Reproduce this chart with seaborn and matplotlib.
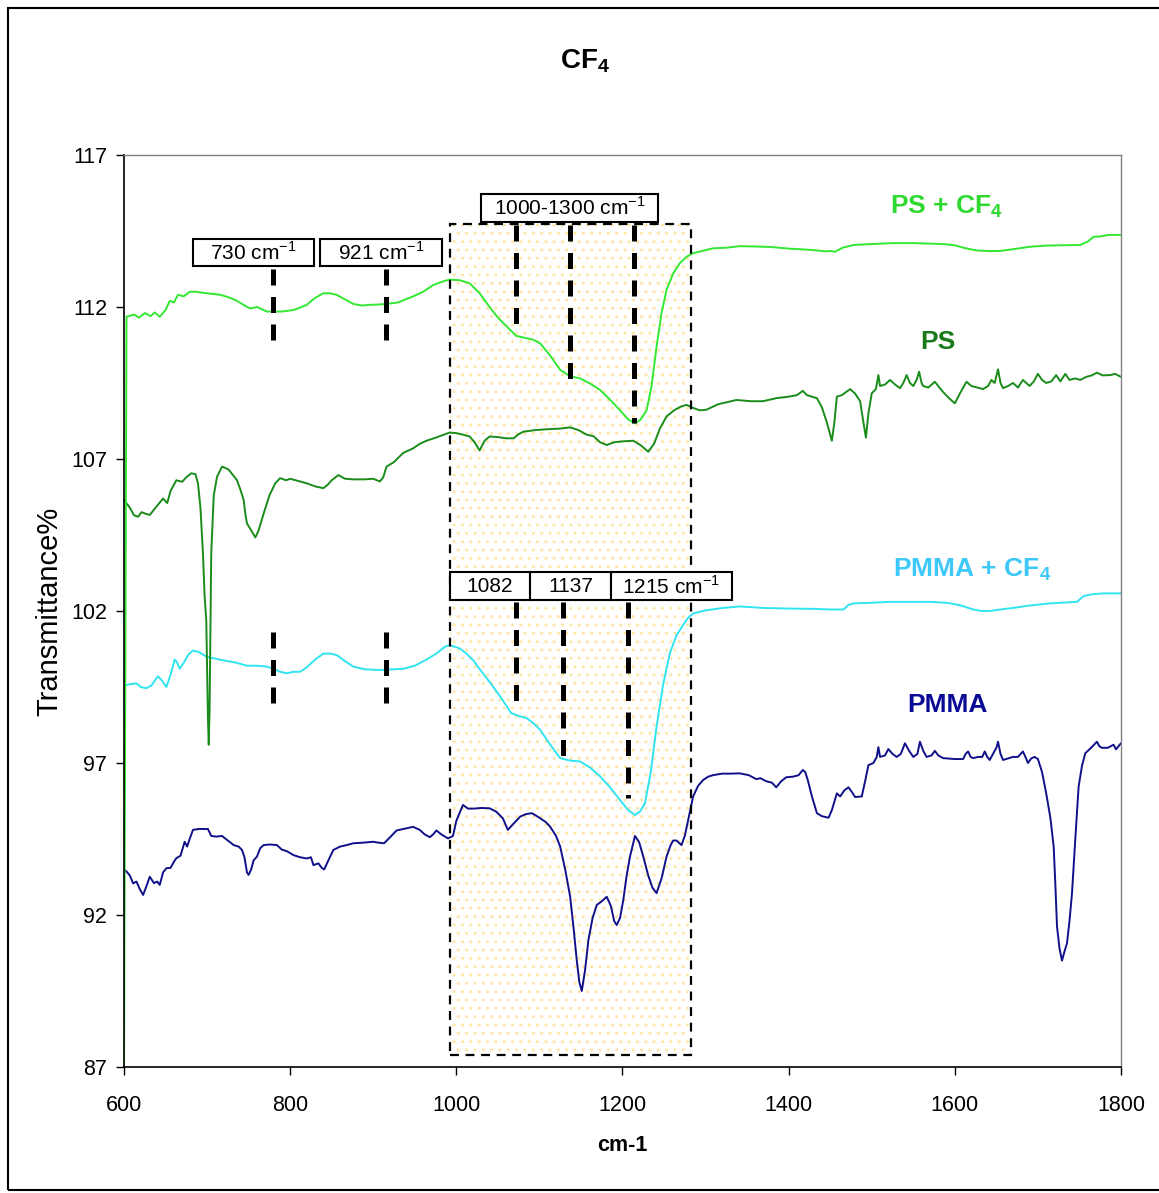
import numpy as np
import pandas as pd
import matplotlib
matplotlib.use("Agg")
import matplotlib.pyplot as plt
from matplotlib.patches import Rectangle
import seaborn as sns

# ── spectra (wavenumber cm-1, transmittance %) ───────────────────────────────
ps_cf4_x = [600, 603, 612, 618, 625, 632, 637, 643, 650, 655, 660, 665, 672, 679, 687, 700, 716,
            728, 736, 745, 752, 760, 772, 790, 804, 812, 820, 830, 840, 848, 856, 866, 876, 886,
            896, 906, 916, 930, 948, 960, 972, 985, 992, 1004, 1016, 1028, 1040, 1050, 1061, 1072,
            1085, 1093, 1101, 1113, 1125, 1137, 1149, 1161, 1173, 1185, 1197, 1207, 1215, 1222,
            1229, 1235, 1241, 1247, 1253, 1261, 1269, 1277, 1285, 1297, 1309, 1325, 1341, 1360,
            1380, 1400, 1414, 1430, 1444, 1450, 1456, 1465, 1478, 1500, 1525, 1550, 1575, 1590,
            1600, 1610, 1626, 1640, 1654, 1670, 1690, 1710, 1730, 1751, 1760, 1767, 1775, 1785, 1800]
ps_cf4_y = [87.0, 111.68, 111.75, 111.65, 111.8, 111.7, 111.82, 111.68, 111.9, 112.2, 112.15, 112.4,
            112.35, 112.5, 112.5, 112.45, 112.4, 112.3, 112.2, 112.05, 111.95, 112.0, 111.85, 111.85,
            111.9, 111.98, 112.07, 112.3, 112.45, 112.45, 112.4, 112.25, 112.1, 112.05, 112.07,
            112.08, 112.1, 112.15, 112.35, 112.5, 112.72, 112.85, 112.9, 112.88, 112.78, 112.45,
            112.0, 111.65, 111.35, 111.05, 110.97, 110.92, 110.8, 110.4, 109.93, 109.72, 109.65,
            109.48, 109.27, 108.95, 108.6, 108.3, 108.17, 108.3, 108.6, 109.4, 110.7, 111.8, 112.56,
            113.1, 113.44, 113.65, 113.77, 113.85, 113.93, 113.95, 114.0, 113.99, 113.97, 113.92,
            113.9, 113.87, 113.83, 113.84, 113.82, 113.95, 114.04, 114.07, 114.1, 114.1, 114.08,
            114.06, 114.03, 113.95, 113.86, 113.84, 113.84, 113.9, 113.98, 114.02, 114.03, 114.04,
            114.15, 114.31, 114.32, 114.37, 114.37]

ps_x = [600, 607, 612, 617, 621, 626, 631, 638, 647, 652, 656, 663, 670, 675, 681, 686, 689, 692,
        695, 697, 699, 700, 701, 702, 703, 704, 705, 708, 712, 718, 726, 736, 740, 744, 746, 748,
        752, 758, 762, 768, 775, 782, 788, 795, 800, 812, 820, 830, 840, 845, 850, 858, 866, 876,
        890, 900, 908, 912, 916, 925, 936, 948, 956, 964, 975, 985, 992, 1000, 1008, 1016, 1022,
        1028, 1034, 1040, 1050, 1060, 1069, 1075, 1081, 1095, 1110, 1125, 1137, 1147, 1157, 1165,
        1173, 1181, 1190, 1200, 1213, 1222, 1231, 1238, 1245, 1253, 1262, 1270, 1277, 1285, 1293,
        1301, 1315, 1337, 1355, 1369, 1385, 1400, 1410, 1417, 1422, 1434, 1440, 1446, 1452, 1455,
        1458, 1464, 1474, 1480, 1486, 1490, 1493, 1496, 1500, 1505, 1508, 1510, 1516, 1522, 1528,
        1534, 1538, 1542, 1546, 1550, 1554, 1557, 1560, 1562, 1568, 1576, 1580, 1586, 1593, 1600,
        1607, 1614, 1620, 1627, 1634, 1640, 1644, 1648, 1652, 1655, 1658, 1664, 1670, 1676, 1682,
        1686, 1690, 1695, 1700, 1705, 1710, 1716, 1722, 1727, 1733, 1738, 1745, 1751, 1758, 1765,
        1771, 1778, 1787, 1793, 1800]
ps_y = [105.65, 105.4, 105.15, 105.1, 105.25, 105.2, 105.16, 105.4, 105.7, 105.55, 105.95, 106.3,
        106.25, 106.4, 106.53, 106.5, 106.2, 105.4, 103.9, 102.5, 101.7, 100.0, 98.5, 97.6, 98.8,
        101.5, 103.9, 105.8, 106.42, 106.75, 106.65, 106.3, 106.0, 105.65, 105.2, 104.88, 104.7,
        104.42, 104.65, 105.2, 105.8, 106.2, 106.37, 106.3, 106.35, 106.26, 106.2, 106.1, 106.04,
        106.15, 106.3, 106.47, 106.35, 106.33, 106.33, 106.35, 106.26, 106.4, 106.75, 106.9, 107.2,
        107.35, 107.5, 107.6, 107.7, 107.8, 107.87, 107.85, 107.8, 107.74, 107.55, 107.28, 107.6,
        107.74, 107.72, 107.68, 107.68, 107.82, 107.9, 107.95, 107.98, 108.0, 108.04, 107.95,
        107.8, 107.75, 107.55, 107.46, 107.55, 107.58, 107.6, 107.45, 107.24, 107.5, 108.0, 108.4,
        108.6, 108.72, 108.78, 108.68, 108.6, 108.62, 108.8, 108.94, 108.9, 108.9, 109.0, 109.05,
        109.1, 109.24, 109.1, 109.0, 108.7, 108.2, 107.6, 108.2, 109.05, 109.1, 109.3, 109.15,
        108.9, 108.2, 107.7, 108.5, 109.16, 109.3, 109.76, 109.4, 109.45, 109.6, 109.45, 109.33,
        109.5, 109.76, 109.5, 109.4, 109.6, 109.87, 109.5, 109.4, 109.35, 109.54, 109.4, 109.2,
        109.0, 108.83, 109.2, 109.54, 109.4, 109.35, 109.3, 109.4, 109.6, 109.5, 109.95, 109.5,
        109.33, 109.4, 109.5, 109.35, 109.6, 109.5, 109.4, 109.55, 109.8, 109.6, 109.5, 109.55,
        109.76, 109.55, 109.8, 109.6, 109.65, 109.6, 109.7, 109.75, 109.84, 109.75, 109.76, 109.8,
        109.7]

pmma_cf4_x = [600, 603, 609, 615, 620, 627, 633, 638, 641, 646, 651, 656, 661, 664, 667, 672, 677,
              683, 690, 699, 707, 715, 725, 735, 748, 760, 772, 780, 788, 796, 804, 812, 820, 830,
              840, 848, 856, 866, 876, 890, 908, 922, 936, 950, 964, 976, 986, 992, 1004, 1012,
              1020, 1032, 1044, 1055, 1066, 1075, 1085, 1093, 1101, 1113, 1125, 1137, 1149, 1161,
              1173, 1185, 1197, 1207, 1215, 1221, 1227, 1234, 1241, 1249, 1257, 1265, 1273, 1279,
              1285, 1300, 1321, 1341, 1369, 1400, 1430, 1450, 1466, 1472, 1478, 1500, 1520, 1550,
              1570, 1590, 1605, 1622, 1632, 1642, 1655, 1670, 1690, 1714, 1747, 1755, 1765, 1779,
              1800]
pmma_cf4_y = [99.55, 99.57, 99.6, 99.62, 99.5, 99.46, 99.55, 99.75, 99.85, 99.7, 99.5, 99.9, 100.4,
              100.3, 100.1, 100.3, 100.55, 100.7, 100.65, 100.5, 100.45, 100.4, 100.35, 100.3,
              100.2, 100.2, 100.17, 100.1, 100.0, 99.95, 100.0, 100.0, 100.15, 100.4, 100.6, 100.6,
              100.55, 100.35, 100.17, 100.08, 100.06, 100.08, 100.1, 100.2, 100.4, 100.6, 100.82,
              100.88, 100.77, 100.6, 100.39, 99.95, 99.52, 99.1, 98.64, 98.55, 98.47, 98.3, 98.09,
              97.6, 97.16, 97.08, 97.05, 96.85, 96.56, 96.2, 95.78, 95.45, 95.29, 95.4, 95.67, 96.7,
              98.2, 99.6, 100.61, 101.2, 101.54, 101.78, 101.92, 102.02, 102.1, 102.15, 102.1,
              102.08, 102.07, 102.05, 102.05, 102.2, 102.25, 102.27, 102.3, 102.3, 102.3, 102.27,
              102.2, 102.05, 102.0, 102.0, 102.05, 102.1, 102.18, 102.25, 102.3, 102.49, 102.55,
              102.58, 102.58]

pmma_x = [600, 603, 607, 611, 615, 619, 623, 627, 631, 636, 640, 643, 647, 651, 656, 660, 663, 668,
          673, 676, 679, 683, 690, 701, 705, 711, 718, 725, 732, 738, 742, 745, 748, 750, 753, 756,
          760, 764, 768, 776, 784, 790, 796, 804, 812, 820, 825, 828, 834, 838, 841, 846, 852, 860,
          868, 876, 888, 900, 906, 913, 920, 928, 938, 948, 956, 962, 968, 972, 976, 982, 990, 996,
          1000, 1008, 1014, 1021, 1030, 1040, 1048, 1056, 1062, 1068, 1077, 1084, 1091, 1100, 1108,
          1113, 1120, 1125, 1131, 1137, 1141, 1145, 1148, 1151, 1155, 1159, 1164, 1169, 1175, 1181,
          1186, 1190, 1193, 1197, 1201, 1205, 1209, 1215, 1220, 1225, 1231, 1236, 1241, 1247, 1253,
          1258, 1261, 1265, 1271, 1275, 1279, 1285, 1291, 1297, 1303, 1309, 1320, 1330, 1341, 1352,
          1361, 1366, 1373, 1380, 1385, 1391, 1397, 1405, 1412, 1417, 1420, 1423, 1428, 1434, 1440,
          1448, 1452, 1458, 1462, 1467, 1472, 1476, 1480, 1488, 1492, 1496, 1502, 1506, 1508, 1510,
          1516, 1520, 1525, 1530, 1535, 1540, 1545, 1550, 1555, 1558, 1562, 1566, 1572, 1576, 1580,
          1586, 1600, 1610, 1613, 1616, 1619, 1622, 1628, 1633, 1636, 1639, 1642, 1646, 1650, 1652,
          1655, 1658, 1664, 1670, 1676, 1682, 1685, 1688, 1692, 1696, 1700, 1705, 1710, 1715, 1719,
          1721, 1723, 1726, 1729, 1732, 1735, 1738, 1741, 1745, 1749, 1753, 1757, 1764, 1771, 1774,
          1777, 1784, 1791, 1794, 1797, 1800]
pmma_y = [93.5, 93.43, 93.3, 93.04, 93.1, 92.85, 92.66, 92.95, 93.26, 93.05, 93.1, 92.99, 93.4,
          93.54, 93.55, 93.75, 93.87, 93.95, 94.41, 94.25, 94.5, 94.8, 94.83, 94.83, 94.6, 94.58,
          94.6, 94.45, 94.3, 94.25, 94.14, 93.9, 93.4, 93.32, 93.5, 93.8, 93.92, 94.2, 94.3, 94.32,
          94.3, 94.15, 94.1, 93.97, 93.9, 93.86, 93.9, 93.64, 93.7, 93.55, 93.5, 93.8, 94.14, 94.25,
          94.3, 94.36, 94.38, 94.41, 94.38, 94.36, 94.55, 94.78, 94.84, 94.9, 94.8, 94.65, 94.56,
          94.65, 94.78, 94.65, 94.52, 94.6, 95.1, 95.62, 95.5, 95.5, 95.52, 95.51, 95.4, 95.18, 94.8,
          94.98, 95.24, 95.32, 95.35, 95.2, 95.05, 94.9, 94.6, 94.25, 93.5, 92.6, 91.6, 90.5, 89.8,
          89.5, 90.2, 91.18, 91.9, 92.33, 92.45, 92.6, 92.3, 91.8, 91.67, 91.9, 92.5, 93.3, 93.92,
          94.6, 94.4, 93.92, 93.3, 92.9, 92.72, 93.2, 93.92, 94.3, 94.45, 94.45, 94.3, 94.6, 95.12,
          95.9, 96.25, 96.44, 96.55, 96.6, 96.65, 96.65, 96.66, 96.6, 96.47, 96.5, 96.4, 96.35,
          96.2, 96.4, 96.53, 96.55, 96.6, 96.77, 96.7, 96.44, 95.9, 95.35, 95.25, 95.2, 95.45, 96.0,
          95.9, 96.1, 96.2, 96.05, 95.88, 95.9, 96.4, 96.93, 97.0, 97.2, 97.52, 97.2, 97.25, 97.46,
          97.3, 97.2, 97.3, 97.65, 97.4, 97.2, 97.3, 97.7, 97.4, 97.2, 97.25, 97.4, 97.25, 97.16,
          97.13, 97.13, 97.3, 97.38, 97.2, 97.16, 97.2, 97.2, 97.38, 97.2, 97.1, 97.3, 97.5, 97.7,
          97.3, 97.1, 97.15, 97.2, 97.2, 97.38, 97.2, 97.0, 97.15, 97.2, 97.13, 96.7, 96.0, 95.2,
          94.25, 93.0, 91.62, 90.9, 90.5, 90.8, 91.07, 91.8, 92.7, 94.5, 96.22, 96.9, 97.32, 97.5,
          97.7, 97.55, 97.5, 97.5, 97.6, 97.45, 97.55, 97.65]

SERIES = ["PMMA", "PMMA + CF4", "PS", "PS + CF4"]
LINE_COLORS = {"PMMA": "#10108a", "PMMA + CF4": "#30e4f0", "PS": "#1a8c1a", "PS + CF4": "#33e833"}
LABEL_COLORS = {"PMMA": "#0a0a96", "PMMA + CF4": "#3cc8f8", "PS": "#1a7a1a", "PS + CF4": "#2ed82e"}
LABEL_TEXT = {"PMMA": "PMMA", "PMMA + CF4": r"PMMA + CF$\mathbf{_4}$",
              "PS": "PS", "PS + CF4": r"PS + CF$\mathbf{_4}$"}
LABEL_POS = {"PS + CF4": (1590, 115.3), "PS": (1580, 110.85),
             "PMMA + CF4": (1621, 103.35), "PMMA": (1591, 98.9)}

# peak markers: (x, y_top, y_bottom)
MARK_LINES = [(779, 113.25, 110.75), (915, 113.25, 110.75),
              (779, 101.3, 98.8), (915, 101.3, 98.8),
              (1072, 114.7, 111.2), (1137, 114.7, 109.27), (1214, 114.7, 108.2),
              (1072, 102.3, 98.74), (1128, 102.3, 96.88), (1207, 102.3, 95.84)]
# label boxes: (x0, x1, y0, y1, text)
BOXES = [(683, 829, 113.35, 114.24, "730 cm$^{\\mathregular{-1}}$"),
         (836, 983, 113.35, 114.24, "921 cm$^{\\mathregular{-1}}$"),
         (1030, 1243, 114.8, 115.72, "1000-1300 cm$^{\\mathregular{-1}}$"),
         (992, 1089, 102.36, 103.28, "1082"),
         (1089, 1186, 102.36, 103.28, "1137"),
         (1186, 1332, 102.36, 103.28, "1215 cm$^{\\mathregular{-1}}$")]
REGION = (992.4, 1282.4, 87.4, 114.73)

# ── data frame ────────────────────────────────────────────────────────────────
frames = []
for name, xs, ys in [("PMMA", pmma_x, pmma_y), ("PMMA + CF4", pmma_cf4_x, pmma_cf4_y),
                     ("PS", ps_x, ps_y), ("PS + CF4", ps_cf4_x, ps_cf4_y)]:
    frames.append(pd.DataFrame({"wn": xs, "T": ys, "sample": name}))
df = pd.concat(frames, ignore_index=True)

# ── style ─────────────────────────────────────────────────────────────────────
sns.set_theme(style="white")
plt.rcParams["font.family"] = ["Liberation Sans", "DejaVu Sans"]
plt.rcParams["mathtext.fontset"] = "custom"
plt.rcParams["mathtext.rm"] = "Liberation Sans"
plt.rcParams["mathtext.bf"] = "Liberation Sans:bold"
plt.rcParams["hatch.linewidth"] = 1.0
for key in ["text.color", "axes.labelcolor", "xtick.color", "ytick.color"]:
    plt.rcParams[key] = "black"

fig = plt.figure(figsize=(11.59, 11.93), dpi=100, facecolor="white")
ax = fig.add_axes([0.107, 0.1056, 0.8602, 0.7645])

# shaded 1000-1300 region
x0, x1, y0, y1 = REGION
ax.add_patch(Rectangle((x0, y0), x1 - x0, y1 - y0, facecolor="white",
                       edgecolor="#fce6a8", hatch="..", lw=0, zorder=0.5))
ax.add_patch(Rectangle((x0, y0), x1 - x0, y1 - y0, fill=False, edgecolor="black",
                       lw=1.6, linestyle=(0, (4, 3)), zorder=3))

sns.lineplot(data=df, x="wn", y="T", hue="sample", hue_order=SERIES, palette=LINE_COLORS,
             estimator=None, sort=False, legend=False, linewidth=1.4, ax=ax, zorder=2)

for x, yt, yb in MARK_LINES:
    ax.plot([x, x], [yt, yb], color="black", lw=3.6, linestyle=(0, (3.2, 2.3)),
            solid_capstyle="butt", dash_capstyle="butt", zorder=4)

for bx0, bx1, by0, by1, txt in BOXES:
    ax.add_patch(Rectangle((bx0, by0), bx1 - bx0, by1 - by0, facecolor="white",
                           edgecolor="black", lw=1.5, zorder=5))
    ax.text((bx0 + bx1) / 2, (by0 + by1) / 2, txt, ha="center", va="center",
            fontsize=15, zorder=6)

for name in SERIES:
    lx, ly = LABEL_POS[name]
    ax.text(lx, ly, LABEL_TEXT[name], color=LABEL_COLORS[name], fontsize=19,
            fontweight="bold", ha="center", va="center")

ax.set_xlim(600, 1800)
ax.set_ylim(87, 117)
ax.set_xticks(np.arange(600, 1801, 200))
ax.set_yticks(np.arange(87, 118, 5))
ax.tick_params(axis="both", direction="out", length=6, width=1, color="black",
               labelsize=15.5, bottom=True, left=True)
ax.tick_params(axis="x", pad=14)
ax.tick_params(axis="y", pad=6)
for side in ["left", "bottom"]:
    ax.spines[side].set_color("black")
    ax.spines[side].set_linewidth(1.2)
for side in ["top", "right"]:
    ax.spines[side].set_color("#808080")
    ax.spines[side].set_linewidth(1.0)

ax.set_xlabel("cm-1", fontsize=15.5, fontweight="bold", labelpad=14)
ax.set_ylabel("Transmittance%", fontsize=21, labelpad=6)

fig.text(0.505, 0.949, r"CF$\mathbf{_4}$", fontsize=20, fontweight="bold",
         ha="center", va="center")

# outer frame
fig.patches.append(Rectangle((0.0069, 0.0025), 1.2, 0.9908, transform=fig.transFigure,
                             fill=False, edgecolor="black", lw=1.5, zorder=10))

fig.savefig("out.png", dpi=100, facecolor="white")
plt.close(fig)
